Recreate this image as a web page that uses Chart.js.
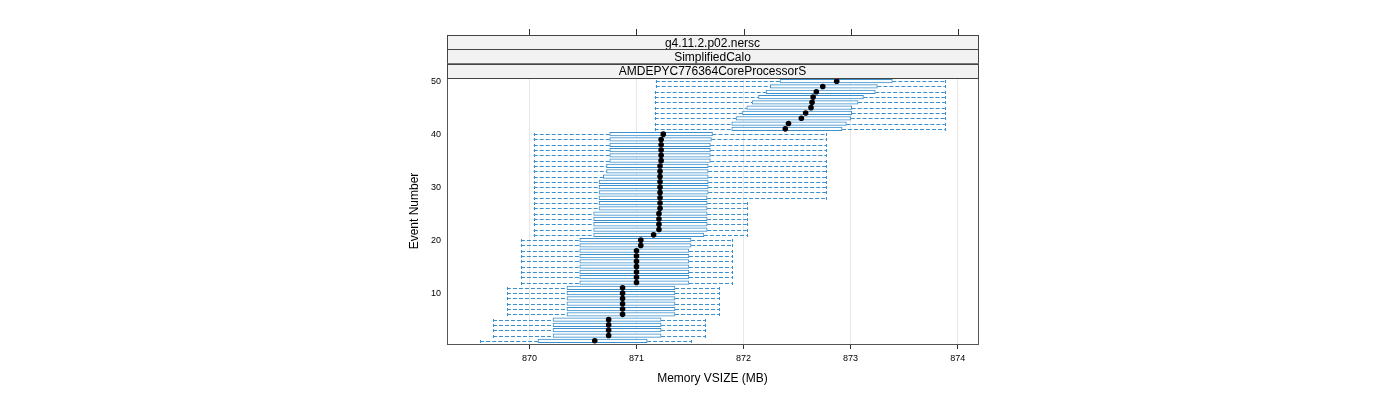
<!DOCTYPE html>
<html>
<head>
<meta charset="utf-8">
<script src="https://cdn.jsdelivr.net/npm/chart.js@4"></script>
<style>
  html, body { margin: 0; padding: 0; background: #fff; }
  #wrap { width: 1400px; height: 400px; }
</style>
</head>
<body>
<div id="wrap"><canvas id="c" width="1400" height="400"></canvas></div>
<script>
// event numbers 1..50
const events = [1,2,3,4,5,6,7,8,9,10,11,12,13,14,15,16,17,18,19,20,
  21,22,23,24,25,26,27,28,29,30,31,32,33,34,35,36,37,38,39,40,
  41,42,43,44,45,46,47,48,49,50];

// box-and-whisker stats per event (MB)
const whiskerLow = [869.54,
  869.66,869.66,869.66,869.66,
  869.79,869.79,869.79,869.79,869.79,869.79,
  869.92,869.92,869.92,869.92,869.92,869.92,869.92,869.92,869.92,
  870.04,870.04,870.04,870.04,870.04,870.04,870.04,870.04,870.04,870.04,
  870.04,870.04,870.04,870.04,870.04,870.04,870.04,870.04,870.04,870.04,
  871.17,871.17,871.17,871.17,871.17,871.17,871.17,871.17,871.18,871.18];
const q1 = [870.08,
  870.22,870.22,870.22,870.22,
  870.35,870.35,870.35,870.35,870.35,870.35,
  870.47,870.47,870.47,870.47,870.47,870.47,870.47,870.47,870.47,
  870.60,870.60,870.60,870.60,870.60,
  870.65,870.65,870.65,870.65,870.65,870.65,
  870.69,870.72,870.72,
  870.75,870.75,870.75,870.75,870.75,870.75,
  871.89,871.89,871.93,871.99,872.03,872.08,872.14,872.21,872.25,872.34];
const medians = [870.61,
  870.74,870.74,870.74,870.74,
  870.87,870.87,870.87,870.87,870.87,870.87,
  871.00,871.00,871.00,871.00,871.00,871.00,871.00,871.04,871.04,
  871.16,871.21,871.21,871.21,871.21,
  871.22,871.22,871.22,871.22,871.22,871.22,871.22,871.22,871.22,
  871.23,871.23,871.23,871.23,871.23,871.25,
  872.39,872.42,872.54,872.58,872.63,872.64,872.65,872.68,872.74,872.87];
const q3 = [871.10,
  871.23,871.23,871.23,871.23,
  871.36,871.36,871.36,871.36,871.36,871.36,
  871.49,871.49,871.49,871.49,871.49,871.49,871.49,871.51,871.51,
  871.63,871.66,871.66,871.66,871.66,871.66,871.66,871.66,
  871.67,871.67,871.67,871.67,871.67,871.67,
  871.69,871.69,871.69,871.69,871.70,871.71,
  872.92,872.96,873.00,873.01,873.01,873.07,873.12,873.23,873.25,873.39];
const whiskerHigh = [871.51,
  871.64,871.64,871.64,871.64,
  871.77,871.77,871.77,871.77,871.77,871.77,
  871.89,871.89,871.89,871.89,871.89,871.89,871.89,871.89,871.89,
  872.03,872.03,872.03,872.03,872.03,872.03,872.03,
  872.77,872.77,872.77,872.77,872.77,872.77,872.77,872.77,872.77,872.77,872.77,872.77,872.77,
  873.88,873.88,873.88,873.88,873.88,873.88,873.88,873.88,873.88,873.88];

const xTicks = [870, 871, 872, 873, 874];
const yTicks = [10, 20, 30, 40, 50];
const stripLabels = ['g4.11.2.p02.nersc', 'SimplifiedCalo', 'AMDEPYC776364CoreProcessorS'];

const FONT = '"Liberation Sans", Arial, Helvetica, sans-serif';
const BLUE = '#3a8fcc';

// dashed whiskers with end caps, drawn under the boxes
const whiskers = {
  id: 'whiskers',
  beforeDatasetsDraw(chart) {
    const { ctx, scales: { x, y } } = chart;
    ctx.save();
    ctx.strokeStyle = BLUE;
    ctx.lineWidth = 1;
    events.forEach((e, i) => {
      const py = Math.round(y.getPixelForValue(e)) + 0.5;
      const xl = x.getPixelForValue(whiskerLow[i]);
      const xa = x.getPixelForValue(q1[i]);
      const xb = x.getPixelForValue(q3[i]);
      const xh = x.getPixelForValue(whiskerHigh[i]);
      ctx.setLineDash([4, 2]);
      ctx.beginPath();
      ctx.moveTo(xl, py); ctx.lineTo(xa, py);
      ctx.moveTo(xb, py); ctx.lineTo(xh, py);
      ctx.stroke();
      ctx.setLineDash([]);
      ctx.beginPath();
      ctx.moveTo(Math.round(xl) + 0.5, py - 1.5); ctx.lineTo(Math.round(xl) + 0.5, py + 1.5);
      ctx.moveTo(Math.round(xh) + 0.5, py - 1.5); ctx.lineTo(Math.round(xh) + 0.5, py + 1.5);
      ctx.stroke();
    });
    ctx.restore();
  }
};

// panel border, strips and the top tick marks
const frame = {
  id: 'frame',
  afterDraw(chart) {
    const { ctx, chartArea: a, scales: { x } } = chart;
    ctx.save();
    ctx.strokeStyle = '#555';
    ctx.lineWidth = 1;
    ctx.strokeRect(a.left + 0.5, a.top + 0.5, a.right - a.left, a.bottom - a.top);

    const h = 14.3;
    stripLabels.forEach((txt, k) => {
      const top = a.top - h * (stripLabels.length - k);
      ctx.fillStyle = '#f2f2f2';
      ctx.fillRect(a.left + 0.5, top, a.right - a.left, h);
      ctx.strokeStyle = '#444';
      ctx.strokeRect(a.left + 0.5, Math.round(top) + 0.5, a.right - a.left, Math.round(h));
      ctx.fillStyle = '#000';
      ctx.font = '12px ' + FONT;
      ctx.textAlign = 'center';
      ctx.textBaseline = 'middle';
      ctx.fillText(txt, (a.left + a.right) / 2, top + h / 2 + 1);
    });

    const stripTop = Math.round(a.top - h * stripLabels.length);
    ctx.strokeStyle = '#333';
    ctx.beginPath();
    xTicks.forEach(v => {
      const px = Math.round(x.getPixelForValue(v)) + 0.5;
      ctx.moveTo(px, stripTop);
      ctx.lineTo(px, stripTop - 6);
    });
    ctx.stroke();
    ctx.restore();
  }
};

new Chart(document.getElementById('c'), {
  type: 'bar',
  data: {
    datasets: [
      {
        type: 'scatter',
        label: 'median',
        data: events.map((e, i) => ({ x: medians[i], y: e })),
        pointRadius: 2.8,
        pointBackgroundColor: '#000',
        pointBorderWidth: 0,
        showLine: false
      },
      {
        type: 'bar',
        label: 'box',
        data: events.map((e, i) => ({ x: [q1[i], q3[i]], y: e })),
        backgroundColor: 'rgba(255,255,255,1)',
        borderColor: BLUE,
        borderWidth: 1,
        borderSkipped: false,
        barThickness: 3.6
      }
    ]
  },
  plugins: [whiskers, frame],
  options: {
    indexAxis: 'y',
    responsive: false,
    animation: false,
    events: [],
    layout: { padding: { left: 397, right: 422, top: 78, bottom: 0 } },
    plugins: { legend: { display: false }, tooltip: { enabled: false } },
    scales: {
      x: {
        type: 'linear',
        min: 869.23,
        max: 874.19,
        beginAtZero: false,
        offset: false,
        afterBuildTicks: s => { s.ticks = xTicks.map(v => ({ value: v })); },
        afterFit: s => { s.height = 56; },
        grid: { color: '#e8e8e8', tickColor: '#333', tickLength: 5, offset: false },
        border: { display: false },
        ticks: { color: '#000', font: { family: FONT, size: 9 }, padding: 4, maxRotation: 0 },
        title: { display: true, text: 'Memory VSIZE (MB)', color: '#000',
                 font: { family: FONT, size: 12 }, padding: { top: 4, bottom: 14 } }
      },
      y: {
        type: 'linear',
        min: 0.4,
        max: 50.6,
        offset: false,
        afterBuildTicks: s => { s.ticks = yTicks.map(v => ({ value: v })); },
        afterFit: s => { s.width = 50; },
        grid: { display: false, offset: false },
        border: { display: false },
        ticks: { color: '#000', font: { family: FONT, size: 9 }, padding: -2 },
        title: { display: true, text: 'Event Number', color: '#000',
                 font: { family: FONT, size: 12 }, padding: { top: 10, bottom: 0 } }
      }
    }
  }
});
</script>
</body>
</html>
